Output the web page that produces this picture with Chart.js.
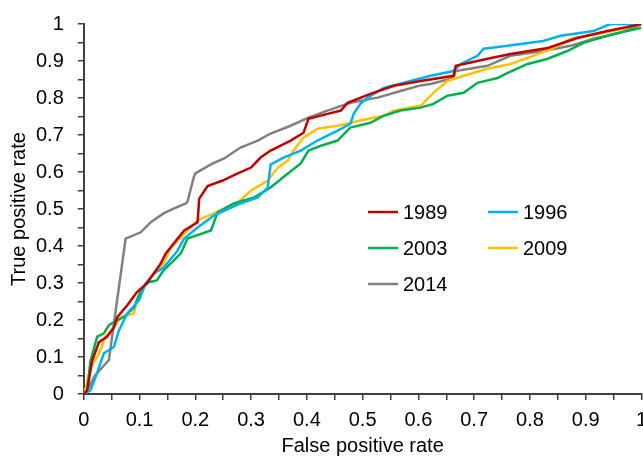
<!DOCTYPE html>
<html>
<head>
<meta charset="utf-8">
<script src="https://cdn.jsdelivr.net/npm/chart.js@4.4.1/dist/chart.umd.min.js"></script>
<style>
  html, body { margin: 0; padding: 0; background: #fff; overflow: hidden; }
  #wrap { width: 643px; height: 457px; overflow: hidden; }
</style>
</head>
<body>
<div id="wrap"><canvas id="chart" width="657" height="457"></canvas></div>
<script>
const years = ["1989", "1996", "2003", "2009", "2014"];
const colors = ["#C00000", "#00B0F0", "#00B050", "#FFC000", "#808080"];

const fpr1989 = [0, 0.006, 0.015, 0.027, 0.042, 0.054, 0.06, 0.078, 0.095, 0.113, 0.138, 0.147, 0.18, 0.204, 0.207, 0.222, 0.249, 0.276, 0.3, 0.317, 0.335, 0.371, 0.394, 0.403, 0.437, 0.461, 0.473, 0.514, 0.556, 0.604, 0.663, 0.667, 0.724, 0.765, 0.832, 0.885, 0.939, 0.986, 1.0];
const tpr1989 = [0, 0.01, 0.09, 0.14, 0.155, 0.18, 0.208, 0.24, 0.275, 0.299, 0.353, 0.38, 0.442, 0.464, 0.528, 0.562, 0.577, 0.596, 0.612, 0.639, 0.658, 0.685, 0.706, 0.744, 0.757, 0.766, 0.787, 0.811, 0.833, 0.846, 0.86, 0.887, 0.906, 0.919, 0.935, 0.962, 0.981, 0.995, 1.0];

const fpr1996 = [0, 0.012, 0.024, 0.036, 0.054, 0.063, 0.078, 0.099, 0.111, 0.126, 0.143, 0.167, 0.18, 0.204, 0.233, 0.281, 0.312, 0.33, 0.335, 0.358, 0.389, 0.419, 0.455, 0.478, 0.484, 0.496, 0.509, 0.538, 0.586, 0.622, 0.663, 0.676, 0.706, 0.717, 0.76, 0.824, 0.855, 0.914, 0.944, 1.0];
const tpr1996 = [0, 0.01, 0.057, 0.11, 0.127, 0.172, 0.218, 0.253, 0.299, 0.326, 0.342, 0.385, 0.42, 0.45, 0.482, 0.515, 0.531, 0.558, 0.62, 0.639, 0.658, 0.685, 0.712, 0.73, 0.757, 0.784, 0.801, 0.827, 0.846, 0.86, 0.873, 0.892, 0.914, 0.933, 0.941, 0.954, 0.968, 0.981, 1.0, 1.0];

const fpr2003 = [0, 0.006, 0.012, 0.024, 0.036, 0.045, 0.06, 0.072, 0.09, 0.104, 0.116, 0.131, 0.143, 0.158, 0.174, 0.186, 0.228, 0.24, 0.269, 0.305, 0.335, 0.366, 0.389, 0.403, 0.425, 0.455, 0.478, 0.514, 0.538, 0.568, 0.604, 0.627, 0.652, 0.681, 0.706, 0.742, 0.76, 0.796, 0.832, 0.867, 0.896, 0.95, 1.0];
const tpr2003 = [0, 0.01, 0.09, 0.155, 0.164, 0.186, 0.2, 0.208, 0.234, 0.286, 0.302, 0.307, 0.334, 0.356, 0.38, 0.42, 0.442, 0.491, 0.515, 0.531, 0.558, 0.596, 0.623, 0.658, 0.671, 0.685, 0.72, 0.733, 0.752, 0.766, 0.774, 0.784, 0.806, 0.814, 0.841, 0.854, 0.868, 0.892, 0.906, 0.927, 0.949, 0.973, 0.99];

const fpr2009 = [0, 0.004, 0.012, 0.024, 0.032, 0.039, 0.054, 0.066, 0.09, 0.095, 0.111, 0.126, 0.143, 0.156, 0.174, 0.204, 0.233, 0.276, 0.3, 0.33, 0.348, 0.366, 0.376, 0.394, 0.419, 0.455, 0.496, 0.538, 0.556, 0.591, 0.604, 0.627, 0.652, 0.681, 0.724, 0.765, 0.806, 0.842, 0.873, 0.921, 0.962, 1.0];
const tpr2009 = [0, 0.019, 0.073, 0.1, 0.127, 0.155, 0.18, 0.208, 0.218, 0.253, 0.299, 0.326, 0.353, 0.395, 0.423, 0.469, 0.488, 0.518, 0.55, 0.577, 0.612, 0.631, 0.658, 0.693, 0.717, 0.725, 0.739, 0.752, 0.766, 0.776, 0.779, 0.814, 0.846, 0.86, 0.879, 0.892, 0.914, 0.935, 0.96, 0.973, 0.986, 1.0];

const fpr2014 = [0, 0.01, 0.02, 0.035, 0.045, 0.075, 0.102, 0.12, 0.143, 0.161, 0.183, 0.186, 0.197, 0.2, 0.231, 0.251, 0.281, 0.312, 0.335, 0.371, 0.403, 0.437, 0.478, 0.527, 0.568, 0.604, 0.622, 0.663, 0.667, 0.724, 0.765, 0.824, 0.873, 0.914, 0.962, 1.0];
const tpr2014 = [0, 0.02, 0.05, 0.075, 0.092, 0.42, 0.437, 0.464, 0.488, 0.501, 0.515, 0.52, 0.585, 0.596, 0.623, 0.636, 0.666, 0.685, 0.704, 0.725, 0.747, 0.766, 0.787, 0.801, 0.819, 0.834, 0.838, 0.854, 0.873, 0.887, 0.914, 0.927, 0.941, 0.96, 0.976, 1.0];

const fprs = [fpr1989, fpr1996, fpr2003, fpr2009, fpr2014];
const tprs = [tpr1989, tpr1996, tpr2003, tpr2009, tpr2014];

const FONT = "'Liberation Sans', Arial, sans-serif";
const AXIS_COLOR = "#404040";

const datasets = years.map((y, i) => ({
  label: y,
  data: fprs[i].map((x, j) => ({ x: x, y: tprs[i][j] })),
  borderColor: colors[i],
  backgroundColor: colors[i],
  borderWidth: 2.5,
  pointRadius: 0,
  tension: 0,
  fill: false
}));

// legend drawn inside the plot, two columns
const legendPlugin = {
  id: "insideLegend",
  afterDraw(chart) {
    const ctx = chart.ctx;
    const slots = [[368, 212], [488, 212], [368, 248], [488, 248], [368, 284]];
    ctx.save();
    ctx.font = "20px " + FONT;
    ctx.textBaseline = "middle";
    chart.data.datasets.forEach((ds, i) => {
      const [x, y] = slots[i];
      ctx.strokeStyle = ds.borderColor;
      ctx.lineWidth = 2.5;
      ctx.beginPath();
      ctx.moveTo(x, y);
      ctx.lineTo(x + 30, y);
      ctx.stroke();
      ctx.fillStyle = "#000";
      ctx.fillText(ds.label, x + 35, y + 1);
    });
    ctx.restore();
  }
};

const tickLabel = v => {
  const r = Math.round(v * 100);
  if (r % 10 !== 0) return "";
  return r === 0 ? "0" : r === 100 ? "1" : (r / 100).toFixed(1);
};

const axis = (title) => ({
  type: "linear",
  min: 0,
  max: 1,
  border: { display: true, color: AXIS_COLOR, width: 2 },
  grid: { drawOnChartArea: false, drawTicks: true, tickLength: 6, color: AXIS_COLOR, lineWidth: 1.5 },
  ticks: {
    stepSize: 0.05,
    autoSkip: false,
    maxRotation: 0,
    padding: 10,
    color: "#000",
    font: { family: FONT, size: 20, lineHeight: 1.0 },
    callback: tickLabel
  },
  title: {
    display: true,
    text: title,
    color: "#000",
    font: { family: FONT, size: 20, lineHeight: 0.6 },
    padding: { top: 0, bottom: 5 }
  }
});

const xAxis = axis("False positive rate");
const yAxis = axis("True positive rate");
yAxis.ticks.padding = 14;
yAxis.title.font = { family: FONT, size: 20, lineHeight: 0.3 };
yAxis.title.padding = { top: 15, bottom: 0 };

new Chart(document.getElementById("chart").getContext("2d"), {
  type: "line",
  data: { datasets: datasets },
  options: {
    responsive: false,
    animation: false,
    layout: { padding: { top: 9, right: 0, left: 1, bottom: 0 } },
    plugins: { legend: { display: false }, tooltip: { enabled: false } },
    scales: { x: xAxis, y: yAxis }
  },
  plugins: [legendPlugin]
});
</script>
</body>
</html>
